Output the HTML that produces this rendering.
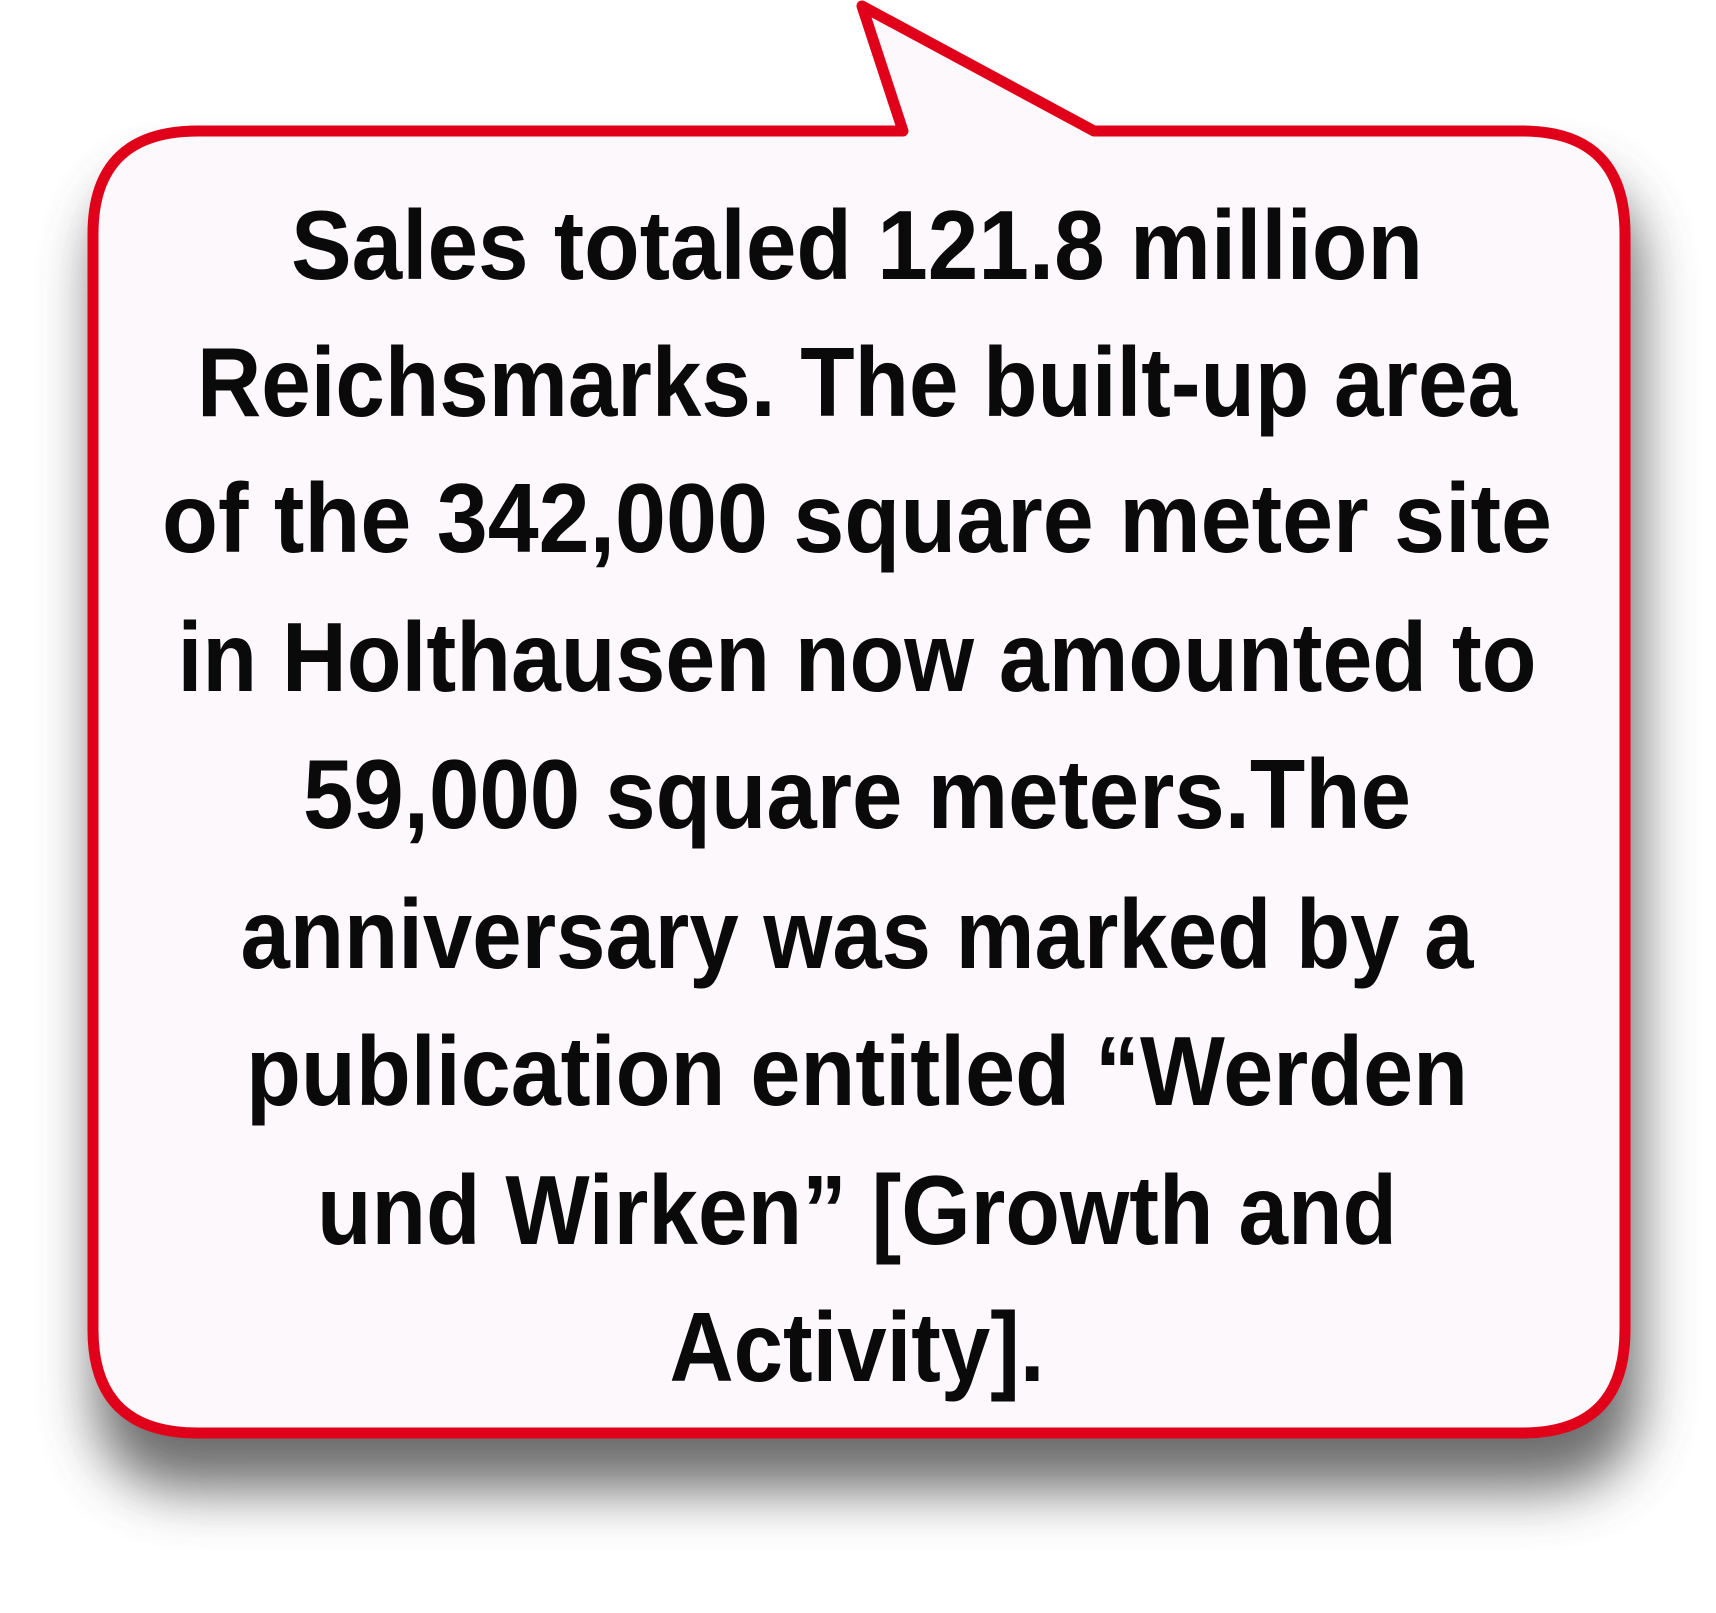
<!DOCTYPE html>
<html><head><meta charset="utf-8"><style>
html,body{margin:0;padding:0;background:#fff;}
svg{display:block;}
</style></head><body>
<svg width="1716" height="1613" viewBox="0 0 1716 1613">
<defs>
<filter id="sh" x="-10%" y="-10%" width="120%" height="130%">
<feGaussianBlur stdDeviation="28"/>
</filter>
</defs>
<path d="M195,175 L1535,175 Q1640,175 1640,280 L1640,1390 Q1640,1490 1535,1490 L195,1490 Q95,1490 95,1390 L95,280 Q95,175 195,175 Z" fill="#555" opacity="0.85" filter="url(#sh)"/>
<path d="M198,131 L903,131 L862,6 L1094,131 L1522,131 Q1625,131 1625,234 L1625,1330 Q1625,1433 1522,1433 L198,1433 Q93,1433 93,1330 L93,234 Q93,131 198,131 Z" fill="#fcf8fb" stroke="#e0001a" stroke-width="11" stroke-linejoin="round"/>
<g font-family="'Liberation Sans Narrow','Liberation Sans',sans-serif" font-weight="bold" font-size="98" fill="#0a0a0a" text-anchor="middle">
<text x="857" y="279" textLength="1132" lengthAdjust="spacingAndGlyphs">Sales totaled 121.8 million</text>
<text x="857" y="416" textLength="1320" lengthAdjust="spacingAndGlyphs">Reichsmarks. The built-up area</text>
<text x="857" y="552" textLength="1390" lengthAdjust="spacingAndGlyphs">of the 342,000 square meter site</text>
<text x="857" y="691" textLength="1359" lengthAdjust="spacingAndGlyphs">in Holthausen now amounted to</text>
<text x="857" y="828" textLength="1108" lengthAdjust="spacingAndGlyphs">59,000 square meters.The</text>
<text x="857" y="968" textLength="1233" lengthAdjust="spacingAndGlyphs">anniversary was marked by a</text>
<text x="857" y="1105" textLength="1222" lengthAdjust="spacingAndGlyphs">publication entitled “Werden</text>
<text x="857" y="1244" textLength="1080" lengthAdjust="spacingAndGlyphs">und Wirken” [Growth and</text>
<text x="857" y="1381" textLength="375" lengthAdjust="spacingAndGlyphs">Activity].</text>
</g>
</svg>
</body></html>
